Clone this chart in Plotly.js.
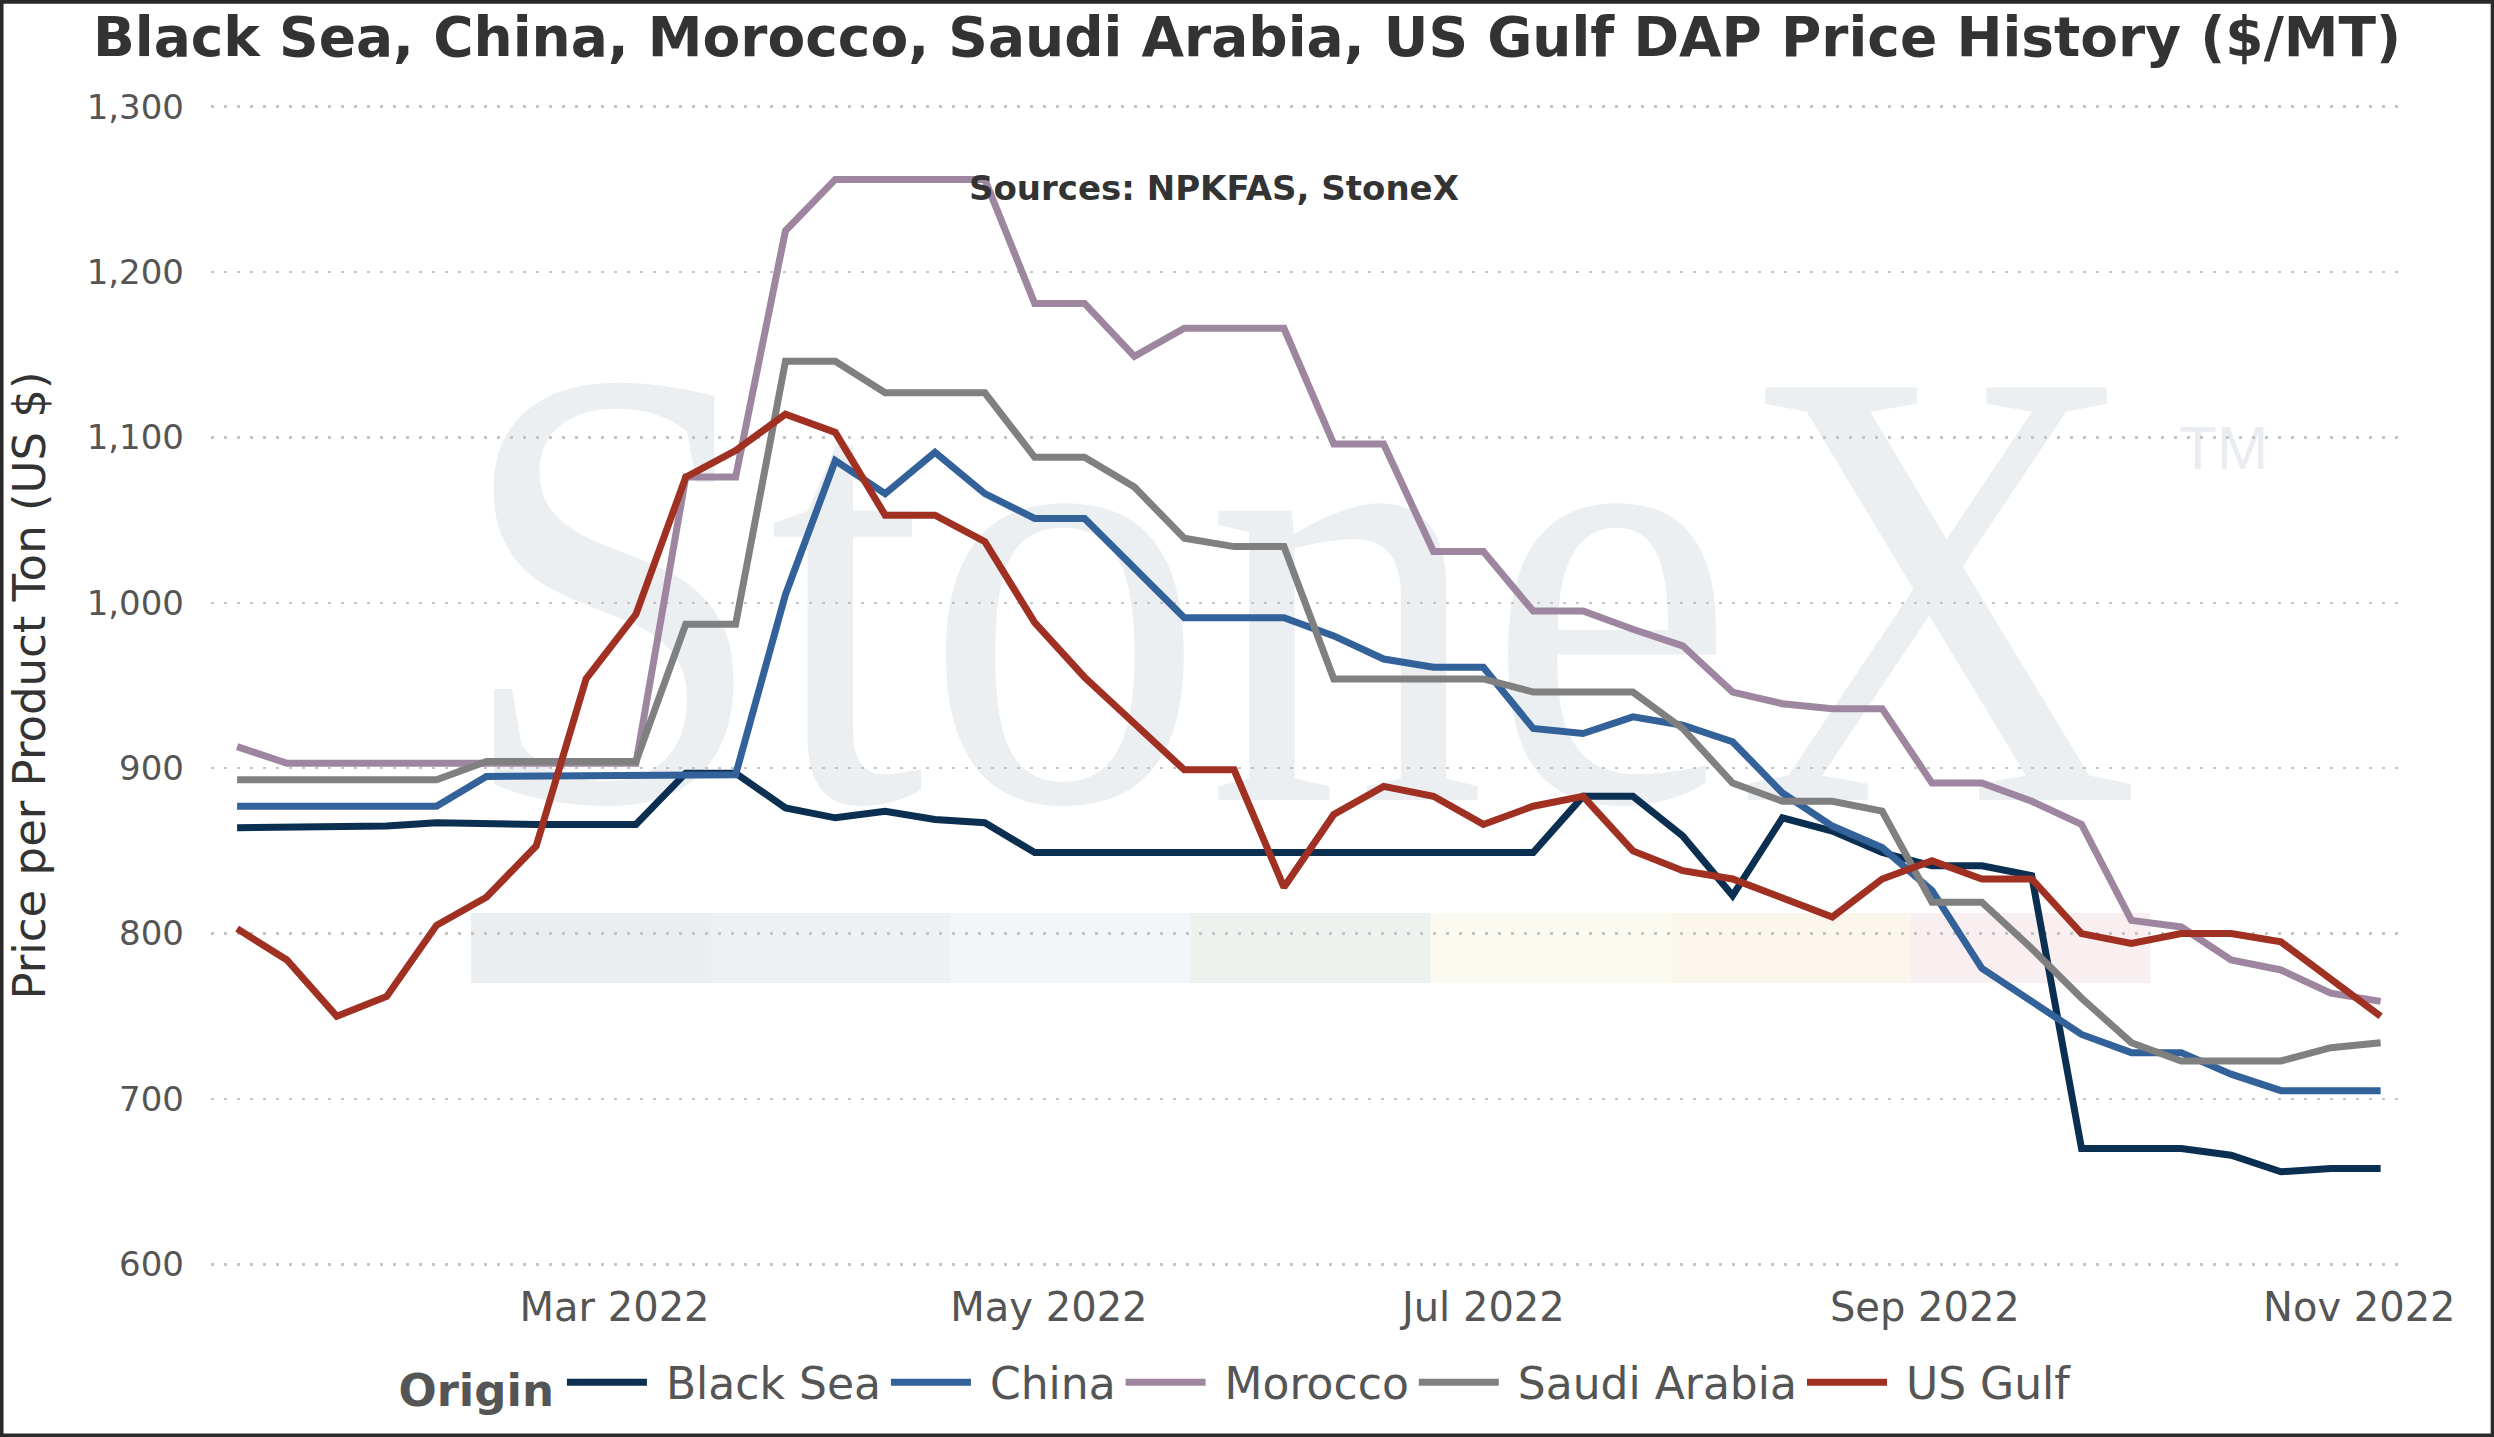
<!DOCTYPE html>
<html>
<head>
<meta charset="utf-8">
<script src="https://cdn.plot.ly/plotly-3.0.1.min.js"></script>
<style>
  html, body { margin: 0; padding: 0; background: #fff; }
  #chart { width: 2494px; height: 1437px; }
</style>
</head>
<body>
<div id="chart"></div>
<script>
// Weekly price dates (Fridays)
const weeks = [
  '2022-01-07', '2022-01-14', '2022-01-21', '2022-01-28', '2022-02-04', '2022-02-11',
  '2022-02-18', '2022-02-25', '2022-03-04', '2022-03-11', '2022-03-18', '2022-03-25',
  '2022-04-01', '2022-04-08', '2022-04-15', '2022-04-22', '2022-04-29', '2022-05-06',
  '2022-05-13', '2022-05-20', '2022-05-27', '2022-06-03', '2022-06-10', '2022-06-17',
  '2022-06-24', '2022-07-01', '2022-07-08', '2022-07-15', '2022-07-22', '2022-07-29',
  '2022-08-05', '2022-08-12', '2022-08-19', '2022-08-26', '2022-09-02', '2022-09-09',
  '2022-09-16', '2022-09-23', '2022-09-30', '2022-10-07', '2022-10-14', '2022-10-21',
  '2022-10-28', '2022-11-04'
];

// DAP prices, $/MT
const blackSea = [
  864, 864, 865, 865, 867, 866, 866, 866, 866, 897, 897, 876,
  870, 874, 869, 867, 849, 849, 849, 849, 849, 849, 849, 849,
  849, 849, 849, 883, 883, 859, 823, 870, 862, 849, 841, 841,
  835, 670, 670, 670, 666, 656, 658, 658
];
const china = [
  877, 877, 877, 877, 877, 895, 895, 895, 896, 896, 896, 1005,
  1086, 1066, 1091, 1066, 1051, 1051, 1021, 991, 991, 991, 980, 966,
  961, 961, 924, 921, 931, 926, 916, 885, 865, 852, 826, 779,
  759, 739, 728, 728, 715, 705, 705, 705
];
const morocco = [
  913, 903, 903, 903, 903, 903, 903, 903, 903, 1076, 1076, 1225,
  1256, 1256, 1256, 1256, 1181, 1181, 1149, 1166, 1166, 1166, 1096, 1096,
  1031, 1031, 995, 995, 984, 974, 946, 939, 936, 936, 891, 891,
  880, 866, 808, 804, 784, 778, 764, 759
];
const saudiArabia = [
  893, 893, 893, 893, 893, 904, 904, 904, 904, 987, 987, 1146,
  1146, 1127, 1127, 1127, 1088, 1088, 1070, 1039, 1034, 1034, 954, 954,
  954, 954, 946, 946, 946, 924, 891, 880, 880, 874, 819, 819,
  791, 761, 734, 723, 723, 723, 731, 734
];
const usGulf = [
  803, 784, 750, 762, 805, 822, 853, 954, 993, 1076, 1092, 1114,
  1103, 1053, 1053, 1037, 988, 955, 927, 899, 899, 828, 872, 889,
  883, 866, 877, 883, 850, 838, 833, 822, 810, 833, 844, 833,
  833, 800, 794, 800, 800, 795, 773, 750
];

const origins = ['Black Sea', 'China', 'Morocco', 'Saudi Arabia', 'US Gulf'];
const seriesValues = [blackSea, china, morocco, saudiArabia, usGulf];
const seriesColors = ['#0b2f51', '#33619a', '#9e86a0', '#808080', '#a03022'];

// pale strip under the watermark
const bandColors = ['#ebeef1', '#edf1f4', '#f2f6f9', '#edf2ef', '#fbfaf1', '#fbf6ec', '#f9eef0'];

const traces = origins.map((name, i) => ({
  x: weeks,
  y: seriesValues[i],
  name: '\u00a0' + name, // small gap after the legend line
  type: 'scatter',
  mode: 'lines',
  line: { color: seriesColors[i], width: 7 },
}));

// StoneX watermark drawn as an svg image behind the grid
const wmSvg =
  '<svg xmlns="http://www.w3.org/2000/svg" width="2191" height="1161" viewBox="0 0 2191 1161">' +
  '<text x="245" y="695" font-family="Liberation Serif, DejaVu Serif, serif" font-size="630" fill="#eceff2" ' +
  'textLength="1685" lengthAdjust="spacingAndGlyphs">StoneX</text>' +
  '<text x="1968" y="364" font-family="Liberation Sans, Arial, sans-serif" font-size="62" fill="#e9edf1">TM</text>' +
  '</svg>';

const bandShapes = bandColors.map((c, i) => ({
  type: 'rect',
  xref: 'paper',
  yref: 'paper',
  x0: 0.1187 + i * 0.1095,
  x1: 0.1187 + (i + 1) * 0.1095,
  y0: 0.2437,
  y1: 0.304,
  line: { width: 0 },
  fillcolor: c,
  layer: 'below',
}));

// outer frame of the picture
const frame = {
  type: 'rect',
  xref: 'paper',
  yref: 'paper',
  x0: -0.0956,
  x1: 1.0414,
  y0: -0.1459,
  y1: 1.089,
  line: { color: '#2a2a2a', width: 4 },
  fillcolor: 'rgba(0,0,0,0)',
  layer: 'above',
};

var layout = {
  width: 2494,
  height: 1437,
  margin: { t: 105, b: 171, l: 211, r: 92, pad: 0 },
  paper_bgcolor: '#ffffff',
  plot_bgcolor: '#ffffff',
  font: { family: 'DejaVu Sans, Verdana, sans-serif', color: '#555555', size: 34 },
  title: {
    text: '<b>Black Sea, China, Morocco, Saudi Arabia, US Gulf DAP Price History ($/MT)</b>',
    font: { size: 55, color: '#333333', family: 'DejaVu Sans, Verdana, sans-serif' },
    x: 0.5,
    xref: 'container',
    xanchor: 'center',
    y: 0.9745,
    yref: 'container',
    yanchor: 'middle',
  },
  showlegend: true,
  legend: {
    orientation: 'h',
    x: 0.468,
    xanchor: 'center',
    y: -0.1005,
    yanchor: 'middle',
    font: { size: 44, color: '#555555' },
    title: { text: '<b>Origin</b>', side: 'left', font: { size: 45, color: '#555555' } },
    itemwidth: 80,
    bgcolor: 'rgba(0,0,0,0)',
  },
  xaxis: {
    type: 'date',
    range: ['2022-01-03 08:00', '2022-11-07'],
    dtick: 'M2',
    tick0: '2022-03-01',
    tickformat: '%b %Y',
    showgrid: false,
    zeroline: false,
    showline: false,
    ticks: '',
    ticklabelstandoff: 14,
    tickfont: { size: 40, color: '#555555' },
  },
  yaxis: {
    range: [599, 1301],
    dtick: 100,
    tick0: 600,
    tickformat: ',d',
    showgrid: true,
    gridcolor: '#c4c4c4',
    gridwidth: 2.5,
    griddash: '3px,10px',
    zeroline: false,
    showline: false,
    ticks: '',
    ticklabelstandoff: 26,
    tickfont: { size: 34, color: '#555555' },
    title: {
      text: 'Price per Product Ton (US $)',
      font: { size: 45, color: '#333333' },
      standoff: 26,
    },
  },
  annotations: [
    {
      text: '<b>Sources: NPKFAS, StoneX</b>',
      xref: 'paper',
      yref: 'paper',
      x: 0.4578,
      y: 0.9285,
      xanchor: 'center',
      yanchor: 'middle',
      showarrow: false,
      font: { size: 34, color: '#333333' },
    },
  ],
  images: [
    {
      source: 'data:image/svg+xml;charset=utf-8,' + encodeURIComponent(wmSvg),
      xref: 'paper',
      yref: 'paper',
      x: 0,
      y: 1,
      sizex: 1,
      sizey: 1,
      sizing: 'stretch',
      xanchor: 'left',
      yanchor: 'top',
      layer: 'below',
    },
  ],
  shapes: bandShapes.concat([frame]),
};

var config = { responsive: false, displayModeBar: false, staticPlot: true };

Plotly.newPlot('chart', traces, layout, config);
</script>
</body>
</html>
